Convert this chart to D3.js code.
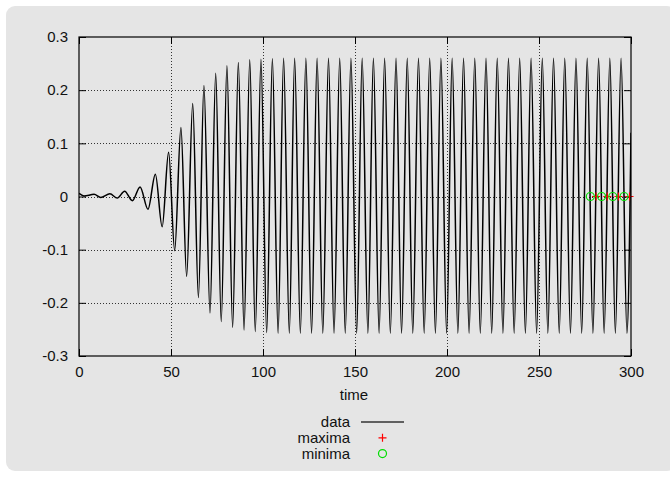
<!DOCTYPE html>
<html>
<head>
<meta charset="utf-8">
<script src="https://cdn.jsdelivr.net/npm/d3@7"></script>
<style>
  body { margin: 0; background: #ffffff; }
  svg { display: block; font-family: "Liberation Sans", Arial, sans-serif; }
</style>
</head>
<body>
<svg id="chart"></svg>
<script>
// data: turning points of the signal (time, value)
const dataTime = [0, 2.7, 8.2, 11.8, 16.8, 20.8, 24.8, 29.0, 33.2, 37.5, 41.5, 45.2, 48.7, 52.0, 55.4, 58.5,
  61.8, 64.9, 67.9, 71.2, 74.3, 77.3, 80.4, 83.5, 86.6, 89.7, 92.8, 95.8, 98.9, 102.0, 105.1, 108.2,
  111.2, 114.3, 117.2, 120.3, 123.3, 126.4, 129.4, 132.5, 135.6, 138.6, 141.7, 144.7, 147.8, 150.9,
  153.9, 157.0, 160.0, 163.1, 166.1, 169.2, 172.3, 175.3, 178.4, 181.4, 184.5, 187.6, 190.6, 193.7,
  196.7, 199.8, 202.8, 205.9, 209.0, 212.0, 215.1, 218.1, 221.2, 224.3, 227.3, 230.4, 233.4, 236.5,
  239.5, 242.6, 245.7, 248.7, 251.8, 254.8, 257.9, 261.0, 264.0, 267.1, 270.1, 273.2, 276.2, 279.3,
  282.4, 285.4, 288.5, 291.5, 294.6, 297.8, 300];
const dataValue = [0.006, 0.001, 0.004, -0.002, 0.005, -0.003, 0.010, -0.008, 0.018, -0.024, 0.042, -0.057,
  0.083, -0.102, 0.130, -0.150, 0.175, -0.190, 0.209, -0.219, 0.232, -0.235, 0.246, -0.246, 0.252, -0.251,
  0.257, -0.254, 0.258, -0.256, 0.259, -0.257, 0.260, -0.257, 0.260, -0.257, 0.260, -0.257, 0.260, -0.257,
  0.260, -0.257, 0.260, -0.257, 0.260, -0.257, 0.260, -0.257, 0.260, -0.257, 0.260, -0.257, 0.260, -0.257,
  0.260, -0.257, 0.260, -0.257, 0.260, -0.257, 0.260, -0.257, 0.260, -0.257, 0.260, -0.257, 0.260, -0.257,
  0.260, -0.257, 0.260, -0.257, 0.260, -0.257, 0.260, -0.257, 0.260, -0.257, 0.260, -0.257, 0.260, -0.257,
  0.260, -0.257, 0.260, -0.257, 0.260, -0.257, 0.260, -0.257, 0.260, -0.257, 0.260, -0.257, 0.120];

const maxTime = [281.0, 287.1, 293.2, 299.2];
const maxValue = [0, 0, 0, 0];
const minTime = [277.9, 284.0, 290.1, 296.2];
const minValue = [0, 0, 0, 0];

const xTicks = [0, 50, 100, 150, 200, 250, 300];
const yTicks = [-0.3, -0.2, -0.1, 0, 0.1, 0.2, 0.3];
const yTickLabels = ["-0.3", "-0.2", "-0.1", "0", "0.1", "0.2", "0.3"];
const legendNames = ["data", "maxima", "minima"];

// size
const width = 670;
const height = 477;
const margin = { top: 37, right: 39, bottom: 121, left: 79 };

const svg = d3.select("#chart")
    .attr("width", width)
    .attr("height", height);

// gray panel
svg.append("rect")
    .attr("x", 6).attr("y", 6)
    .attr("width", 670).attr("height", 465)
    .attr("rx", 9)
    .attr("fill", "#e5e5e5");

const x = d3.scaleLinear()
    .domain([0, 300])
    .range([margin.left, width - margin.right]);

const y = d3.scaleLinear()
    .domain([-0.3, 0.3])
    .range([height - margin.bottom, margin.top]);

// grid
const grid = svg.append("g")
    .attr("stroke", "#333")
    .attr("stroke-width", 1)
    .attr("stroke-dasharray", "1,2");
grid.selectAll(".gx")
    .data(xTicks.slice(1, -1))
    .enter().append("line")
    .attr("x1", d => Math.round(x(d)) + 0.5).attr("x2", d => Math.round(x(d)) + 0.5)
    .attr("y1", y(0.3)).attr("y2", y(-0.3));
grid.selectAll(".gy")
    .data(yTicks.slice(1, -1))
    .enter().append("line")
    .attr("y1", d => Math.round(y(d)) + 0.5).attr("y2", d => Math.round(y(d)) + 0.5)
    .attr("x1", x(0)).attr("x2", x(300));

// axes, ticks inward and mirrored
const tickLen = 7;
svg.append("g")
    .attr("transform", `translate(0,${y(-0.3)})`)
    .call(d3.axisBottom(x).tickValues(xTicks).tickSize(-tickLen).tickPadding(10).tickFormat(d3.format("d")))
    .call(g => g.select(".domain").remove());
svg.append("g")
    .attr("transform", `translate(0,${y(0.3)})`)
    .call(d3.axisTop(x).tickValues(xTicks).tickSize(-tickLen).tickFormat(""))
    .call(g => g.select(".domain").remove());
svg.append("g")
    .attr("transform", `translate(${x(0)},0)`)
    .call(d3.axisLeft(y).tickValues(yTicks).tickSize(-tickLen).tickPadding(tickLen + 4)
        .tickFormat((d, i) => yTickLabels[i]))
    .call(g => g.select(".domain").remove());
svg.append("g")
    .attr("transform", `translate(${x(300)},0)`)
    .call(d3.axisRight(y).tickValues(yTicks).tickSize(-tickLen).tickFormat(""))
    .call(g => g.select(".domain").remove());

svg.selectAll(".tick text")
    .style("font-size", "15px")
    .style("fill", "#111");
svg.selectAll(".tick line").attr("stroke", "#000");

// clip to plot area
svg.append("clipPath").attr("id", "clip")
    .append("rect")
    .attr("x", x(0)).attr("y", y(0.3))
    .attr("width", x(300) - x(0)).attr("height", y(-0.3) - y(0.3));

const points = dataTime.map((t, i) => [t, dataValue[i]]);
const line = d3.line()
    .x(d => x(d[0]))
    .y(d => y(d[1]))
    .curve(d3.curveMonotoneX);

svg.append("path")
    .datum(points)
    .attr("clip-path", "url(#clip)")
    .attr("fill", "none")
    .attr("stroke", "#000")
    .attr("stroke-width", 1.5)
    .attr("d", line);

// maxima (+) and minima (o)
svg.selectAll(".max")
    .data(maxTime.map((t, i) => [t, maxValue[i]]))
    .enter().append("path")
    .attr("class", "max")
    .attr("transform", d => `translate(${x(d[0])},${y(d[1])})`)
    .attr("d", "M-4,0H4M0,-4V4")
    .attr("stroke", "#ff0000")
    .attr("stroke-width", 1.2);
svg.selectAll(".min")
    .data(minTime.map((t, i) => [t, minValue[i]]))
    .enter().append("circle")
    .attr("class", "min")
    .attr("cx", d => x(d[0])).attr("cy", d => y(d[1]))
    .attr("r", 4)
    .attr("fill", "none")
    .attr("stroke", "#00dd00")
    .attr("stroke-width", 1.2);

// border
svg.append("rect")
    .attr("x", x(0)).attr("y", y(0.3))
    .attr("width", x(300) - x(0)).attr("height", y(-0.3) - y(0.3))
    .attr("fill", "none")
    .attr("stroke", "#000")
    .attr("stroke-width", 1.2);

// x label
svg.append("text")
    .attr("x", 354).attr("y", 400)
    .attr("text-anchor", "middle")
    .style("font-size", "15px")
    .style("fill", "#111")
    .text("time");

// legend
const legend = svg.append("g");
legendNames.forEach((name, i) => {
    const ly = 422 + i * 15.8;
    legend.append("text")
        .attr("x", 350).attr("y", ly + 5)
        .attr("text-anchor", "end")
        .style("font-size", "15px")
        .style("fill", "#111")
        .text(name);
    if (i === 0) {
        legend.append("line")
            .attr("x1", 361).attr("x2", 404)
            .attr("y1", ly).attr("y2", ly)
            .attr("stroke", "#333").attr("stroke-width", 1.3);
    } else if (i === 1) {
        legend.append("path")
            .attr("transform", `translate(382.5,${ly})`)
            .attr("d", "M-4,0H4M0,-4V4")
            .attr("stroke", "#ff0000").attr("stroke-width", 1.2);
    } else {
        legend.append("circle")
            .attr("cx", 382.5).attr("cy", ly).attr("r", 4)
            .attr("fill", "none")
            .attr("stroke", "#00dd00").attr("stroke-width", 1.2);
    }
});
</script>
</body>
</html>
